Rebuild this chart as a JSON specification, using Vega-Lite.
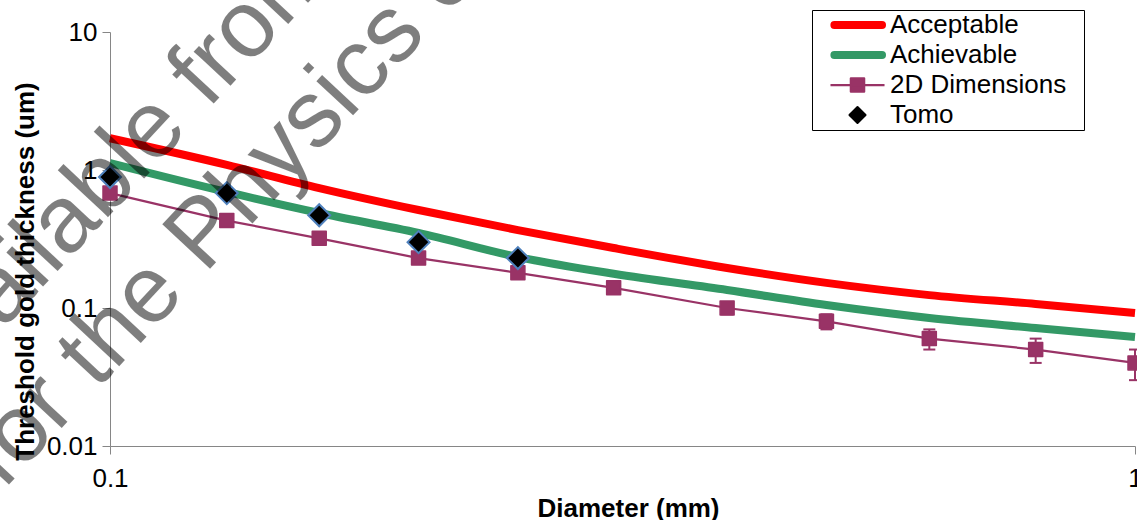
{
  "$schema": "https://vega.github.io/schema/vega-lite/v6.json",
  "width": 1025,
  "height": 414,
  "autosize": {"type": "none"},
  "padding": {"left": 110, "top": 32, "right": 2, "bottom": 74},
  "background": "white",
  "config": {
    "view": {"stroke": null},
    "font": "Liberation Sans",
    "axis": {
      "grid": false,
      "domainColor": "#868686",
      "tickColor": "#868686",
      "domainWidth": 1,
      "tickWidth": 1,
      "tickSize": 8,
      "labelFont": "Liberation Sans",
      "labelFontSize": 26,
      "labelColor": "#000000",
      "labelFlush": false,
      "labelOverlap": false,
      "titleFont": "Liberation Sans",
      "titleFontSize": 26,
      "titleFontWeight": "bold",
      "titleColor": "#000000"
    }
  },
  "datasets": {
    "curves": [
      {"x": 0.1, "y": 1.70, "series": "Acceptable"},
      {"x": 0.13, "y": 1.09, "series": "Acceptable"},
      {"x": 0.16, "y": 0.74, "series": "Acceptable"},
      {"x": 0.2, "y": 0.513, "series": "Acceptable"},
      {"x": 0.25, "y": 0.367, "series": "Acceptable"},
      {"x": 0.31, "y": 0.272, "series": "Acceptable"},
      {"x": 0.4, "y": 0.195, "series": "Acceptable"},
      {"x": 0.5, "y": 0.152, "series": "Acceptable"},
      {"x": 0.63, "y": 0.124, "series": "Acceptable"},
      {"x": 0.8, "y": 0.107, "series": "Acceptable"},
      {"x": 1.0, "y": 0.092, "series": "Acceptable"},
      {"x": 0.1, "y": 1.124, "series": "Achievable"},
      {"x": 0.13, "y": 0.693, "series": "Achievable"},
      {"x": 0.16, "y": 0.488, "series": "Achievable"},
      {"x": 0.2, "y": 0.350, "series": "Achievable"},
      {"x": 0.25, "y": 0.234, "series": "Achievable"},
      {"x": 0.31, "y": 0.177, "series": "Achievable"},
      {"x": 0.4, "y": 0.135, "series": "Achievable"},
      {"x": 0.5, "y": 0.105, "series": "Achievable"},
      {"x": 0.63, "y": 0.0846, "series": "Achievable"},
      {"x": 0.8, "y": 0.0716, "series": "Achievable"},
      {"x": 1.0, "y": 0.0616, "series": "Achievable"}
    ],
    "dims": [
      {"x": 0.1, "y": 0.68, "yLow": 0.67, "yHigh": 0.69},
      {"x": 0.13, "y": 0.43, "yLow": 0.42, "yHigh": 0.44},
      {"x": 0.16, "y": 0.32, "yLow": 0.31, "yHigh": 0.33},
      {"x": 0.2, "y": 0.23, "yLow": 0.22, "yHigh": 0.24},
      {"x": 0.25, "y": 0.18, "yLow": 0.17, "yHigh": 0.19},
      {"x": 0.31, "y": 0.14, "yLow": 0.13, "yHigh": 0.15},
      {"x": 0.4, "y": 0.10, "yLow": 0.09, "yHigh": 0.11},
      {"x": 0.5, "y": 0.08, "yLow": 0.07, "yHigh": 0.09},
      {"x": 0.63, "y": 0.06, "yLow": 0.05, "yHigh": 0.07},
      {"x": 0.8, "y": 0.05, "yLow": 0.04, "yHigh": 0.06},
      {"x": 1.0, "y": 0.04, "yLow": 0.03, "yHigh": 0.05}
    ],
    "tomo": [
      {"x": 0.1, "y": 0.89},
      {"x": 0.13, "y": 0.68},
      {"x": 0.16, "y": 0.47},
      {"x": 0.2, "y": 0.30},
      {"x": 0.25, "y": 0.23}
    ],
    "watermark": [
      {"x": 0.0634, "y": 0.02546, "t": "Available from the"},
      {"x": 0.0750, "y": 0.00659, "t": "for the Physics of"}
    ]
  },
  "layer": [
    {
      "data": {"name": "curves"},
      "mark": {"type": "line", "strokeWidth": 8, "interpolate": "monotone", "strokeCap": "butt"},
      "encoding": {
        "x": {"field": "x", "type": "quantitative",
          "scale": {"type": "log", "domain": [0.1, 1], "nice": false},
          "axis": {"values": [0.1, 1], "format": "~g", "title": "Diameter (mm)", "labelPadding": 11, "titleX": 518, "titleY": 70, "titleBaseline": "alphabetic"}},
        "y": {"field": "y", "type": "quantitative",
          "scale": {"type": "log", "domain": [0.01, 10], "nice": false},
          "axis": {"values": [0.01, 0.1, 1, 10], "format": "~g", "title": "Threshold gold thickness (um)", "labelPadding": 5, "titleX": -77, "titleY": 239, "titleBaseline": "alphabetic"}},
        "color": {"field": "series", "type": "nominal",
          "scale": {"domain": ["Acceptable", "Achievable", "2D Dimensions", "Tomo"], "range": ["#FF0000", "#339966", "#993366", "#000000"]},
          "legend": {
            "orient": "none", "legendX": 702, "legendY": -22,
            "title": null, "padding": 2, "strokeColor": "#000000", "fillColor": "#FFFFFF",
            "labelFont": "Liberation Sans", "labelFontSize": 26, "labelColor": "#000000", "labelLimit": 0,
            "symbolSize": 196, "symbolOffset": 30.5, "labelOffset": 19.5, "rowPadding": 4, "symbolStrokeWidth": 1.5,
            "encode": {
              "symbols": {
                "update": {
                  "shape": {"signal": "datum.value === 'Tomo' ? 'M0,-1.15L1.15,0L0,1.15L-1.15,0ZM31.4,0' : datum.value === '2D Dimensions' ? 'M-3.86,0H3.86M-0.95,-0.95H0.95V0.95H-0.95ZM31.4,0' : 'M-3.3,0H3.5M31.4,0'"},
                  "fill": {"signal": "datum.value === 'Tomo' ? '#000000' : datum.value === '2D Dimensions' ? '#993366' : 'transparent'"},
                  "stroke": {"signal": "datum.value === 'Acceptable' ? '#FF0000' : datum.value === 'Achievable' ? '#339966' : datum.value === '2D Dimensions' ? '#993366' : '#4F81BD'"},
                  "strokeWidth": {"signal": "datum.value === 'Acceptable' || datum.value === 'Achievable' ? 8 : datum.value === '2D Dimensions' ? 2.25 : 2"},
                  "strokeCap": {"signal": "datum.value === 'Acceptable' || datum.value === 'Achievable' ? 'round' : 'butt'"},
                  "strokeJoin": {"value": "round"},
                  "opacity": {"value": 1}
                }
              }
            }
          }
        }
      }
    },
    {
      "data": {"name": "dims"},
      "mark": {"type": "line", "color": "#993366", "strokeWidth": 2.25},
      "encoding": {
        "x": {"field": "x", "type": "quantitative", "scale": {"type": "log", "domain": [0.1, 1], "nice": false}},
        "y": {"field": "y", "type": "quantitative", "scale": {"type": "log", "domain": [0.01, 10], "nice": false}}
      }
    },
    {
      "data": {"name": "dims"},
      "mark": {"type": "rule", "color": "#993366", "strokeWidth": 2},
      "encoding": {
        "x": {"field": "x", "type": "quantitative", "scale": {"type": "log", "domain": [0.1, 1], "nice": false}},
        "y": {"field": "yLow", "type": "quantitative", "scale": {"type": "log", "domain": [0.01, 10], "nice": false}},
        "y2": {"field": "yHigh"}
      }
    },
    {
      "data": {"name": "dims"},
      "mark": {"type": "point", "shape": "stroke", "size": 144, "stroke": "#993366", "strokeWidth": 2, "filled": false, "opacity": 1},
      "encoding": {
        "x": {"field": "x", "type": "quantitative", "scale": {"type": "log", "domain": [0.1, 1], "nice": false}},
        "y": {"field": "yLow", "type": "quantitative", "scale": {"type": "log", "domain": [0.01, 10], "nice": false}}
      }
    },
    {
      "data": {"name": "dims"},
      "mark": {"type": "point", "shape": "stroke", "size": 144, "stroke": "#993366", "strokeWidth": 2, "filled": false, "opacity": 1},
      "encoding": {
        "x": {"field": "x", "type": "quantitative", "scale": {"type": "log", "domain": [0.1, 1], "nice": false}},
        "y": {"field": "yHigh", "type": "quantitative", "scale": {"type": "log", "domain": [0.01, 10], "nice": false}}
      }
    },
    {
      "data": {"name": "dims"},
      "mark": {"type": "point", "shape": "square", "size": 196, "fill": "#993366", "stroke": "#993366", "strokeWidth": 1.5, "strokeJoin": "round", "filled": true, "opacity": 1},
      "encoding": {
        "x": {"field": "x", "type": "quantitative", "scale": {"type": "log", "domain": [0.1, 1], "nice": false}},
        "y": {"field": "y", "type": "quantitative", "scale": {"type": "log", "domain": [0.01, 10], "nice": false}}
      }
    },
    {
      "data": {"name": "tomo"},
      "mark": {"type": "point", "shape": "diamond", "size": 484, "fill": "#000000", "stroke": "#4F81BD", "strokeWidth": 2, "filled": true, "opacity": 1},
      "encoding": {
        "x": {"field": "x", "type": "quantitative", "scale": {"type": "log", "domain": [0.1, 1], "nice": false}},
        "y": {"field": "y", "type": "quantitative", "scale": {"type": "log", "domain": [0.01, 10], "nice": false}}
      }
    },
    {
      "data": {"name": "watermark"},
      "mark": {"type": "text", "font": "Liberation Sans", "fontSize": 95, "angle": -47, "align": "left", "baseline": "middle", "color": "#000000", "opacity": 0.5},
      "encoding": {
        "x": {"field": "x", "type": "quantitative", "scale": {"type": "log", "domain": [0.1, 1], "nice": false}},
        "y": {"field": "y", "type": "quantitative", "scale": {"type": "log", "domain": [0.01, 10], "nice": false}},
        "text": {"field": "t"}
      }
    }
  ]
}
